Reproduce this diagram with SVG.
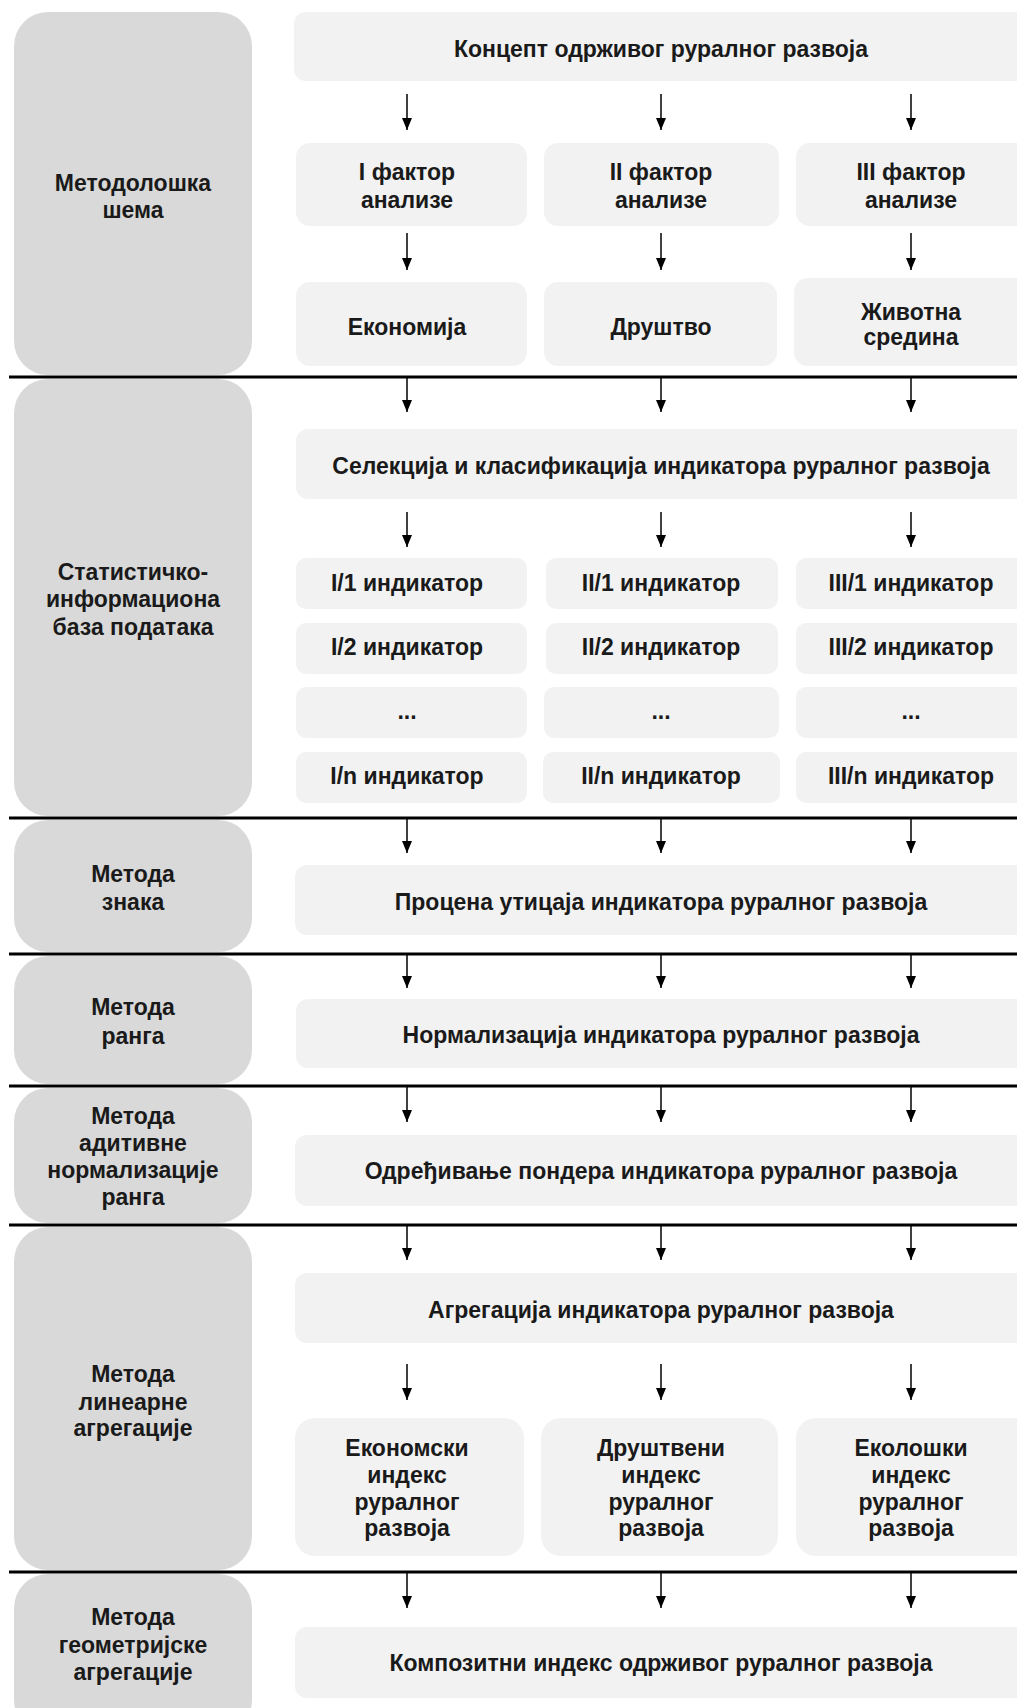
<svg xmlns="http://www.w3.org/2000/svg" width="1017" height="1708" viewBox="0 0 1017 1708">
<style>
text{font-family:"Liberation Sans",Arial,sans-serif;font-weight:bold;font-size:23px;fill:#1a1a1a;text-anchor:middle}
.side{fill:#d9d9d9}
.box{fill:#f2f2f2}
.sep{stroke:#000;stroke-width:3}
.arr{stroke:#000;stroke-width:1.5;fill:none;marker-end:url(#ah)}
</style>
<defs>
<marker id="ah" viewBox="0 0 12 10" refX="12" refY="5" markerWidth="12" markerHeight="10" markerUnits="userSpaceOnUse" orient="auto">
<path d="M0,0 L12,5 L0,10 z" fill="#000"/>
</marker>
</defs>

<g id="side-1"><rect class="side" x="14" y="12" width="238" height="363" rx="34"/><text x="133" y="191">Методолошка</text><text x="133" y="218">шема</text></g>
<g id="side-2"><rect class="side" x="14" y="379" width="238" height="437" rx="34"/><text x="133" y="580">Статистичко-</text><text x="133" y="607">информациона</text><text x="133" y="635">база података</text></g>
<g id="side-3"><rect class="side" x="14" y="820" width="238" height="132" rx="34"/><text x="133" y="882">Метода</text><text x="133" y="910">знака</text></g>
<g id="side-4"><rect class="side" x="14" y="956" width="238" height="128" rx="34"/><text x="133" y="1015">Метода</text><text x="133" y="1044">ранга</text></g>
<g id="side-5"><rect class="side" x="14" y="1088" width="238" height="135" rx="34"/><text x="133" y="1124">Метода</text><text x="133" y="1151">адитивне</text><text x="133" y="1178">нормализације</text><text x="133" y="1205">ранга</text></g>
<g id="side-6"><rect class="side" x="14" y="1227" width="238" height="343" rx="34"/><text x="133" y="1382">Метода</text><text x="133" y="1410">линеарне</text><text x="133" y="1436">агрегације</text></g>
<g id="side-7"><rect class="side" x="14" y="1574" width="238" height="160" rx="34"/><text x="133" y="1625">Метода</text><text x="133" y="1653">геометријске</text><text x="133" y="1680">агрегације</text></g>

<g id="koncept"><rect class="box" x="294" y="12" width="740" height="69" rx="12"/><text x="661" y="57">Концепт одрживог руралног развоја</text></g>
<g id="faktor-1"><rect class="box" x="296" y="143" width="231" height="83" rx="14"/><text x="407" y="180">I фактор</text><text x="407" y="208">анализе</text></g>
<g id="faktor-2"><rect class="box" x="544" y="143" width="235" height="83" rx="14"/><text x="661" y="180">II фактор</text><text x="661" y="208">анализе</text></g>
<g id="faktor-3"><rect class="box" x="796" y="143" width="240" height="83" rx="14"/><text x="911" y="180">III фактор</text><text x="911" y="208">анализе</text></g>
<g id="ekonomija"><rect class="box" x="296" y="282" width="231" height="84" rx="14"/><text x="407" y="335">Економија</text></g>
<g id="drustvo"><rect class="box" x="544" y="282" width="233" height="84" rx="14"/><text x="661" y="335">Друштво</text></g>
<g id="zivotna"><rect class="box" x="794" y="278" width="242" height="88" rx="14"/><text x="911" y="320">Животна</text><text x="911" y="345">средина</text></g>

<g id="selekcija"><rect class="box" x="296" y="429" width="740" height="70" rx="12"/><text x="661" y="474">Селекција и класификација индикатора руралног развоја</text></g>
<g id="ind-I-1"><rect class="box" x="296" y="558" width="231" height="51" rx="10"/><text x="407" y="591">I/1 индикатор</text></g>
<g id="ind-II-1"><rect class="box" x="546" y="558" width="232" height="51" rx="10"/><text x="661" y="591">II/1 индикатор</text></g>
<g id="ind-III-1"><rect class="box" x="796" y="558" width="240" height="51" rx="10"/><text x="911" y="591">III/1 индикатор</text></g>
<g id="ind-I-2"><rect class="box" x="296" y="623" width="231" height="51" rx="10"/><text x="407" y="655">I/2 индикатор</text></g>
<g id="ind-II-2"><rect class="box" x="546" y="623" width="232" height="51" rx="10"/><text x="661" y="655">II/2 индикатор</text></g>
<g id="ind-III-2"><rect class="box" x="796" y="623" width="240" height="51" rx="10"/><text x="911" y="655">III/2 индикатор</text></g>
<g id="ind-I-dots"><rect class="box" x="296" y="687" width="231" height="51" rx="10"/><text x="407" y="719">...</text></g>
<g id="ind-II-dots"><rect class="box" x="544" y="687" width="235" height="51" rx="10"/><text x="661" y="719">...</text></g>
<g id="ind-III-dots"><rect class="box" x="796" y="687" width="240" height="51" rx="10"/><text x="911" y="719">...</text></g>
<g id="ind-I-n"><rect class="box" x="296" y="752" width="231" height="51" rx="10"/><text x="407" y="784">I/n индикатор</text></g>
<g id="ind-II-n"><rect class="box" x="543" y="752" width="237" height="51" rx="10"/><text x="661" y="784">II/n индикатор</text></g>
<g id="ind-III-n"><rect class="box" x="796" y="752" width="240" height="51" rx="10"/><text x="911" y="784">III/n индикатор</text></g>

<g id="procena"><rect class="box" x="295" y="865" width="740" height="70" rx="12"/><text x="661" y="910">Процена утицаја индикатора руралног развоја</text></g>
<g id="normalizacija"><rect class="box" x="296" y="999" width="740" height="69" rx="12"/><text x="661" y="1043">Нормализација индикатора руралног развоја</text></g>
<g id="ponderi"><rect class="box" x="295" y="1135" width="740" height="71" rx="12"/><text x="661" y="1179">Одређивање пондера индикатора руралног развоја</text></g>
<g id="agregacija"><rect class="box" x="295" y="1273" width="740" height="70" rx="12"/><text x="661" y="1318">Агрегација индикатора руралног развоја</text></g>
<g id="ek-indeks"><rect class="box" x="295" y="1418" width="229" height="138" rx="20"/><text x="407" y="1456">Економски</text><text x="407" y="1483">индекс</text><text x="407" y="1510">руралног</text><text x="407" y="1536">развоја</text></g>
<g id="dr-indeks"><rect class="box" x="541" y="1418" width="237" height="138" rx="20"/><text x="661" y="1456">Друштвени</text><text x="661" y="1483">индекс</text><text x="661" y="1510">руралног</text><text x="661" y="1536">развоја</text></g>
<g id="eko-indeks"><rect class="box" x="796" y="1418" width="240" height="138" rx="20"/><text x="911" y="1456">Еколошки</text><text x="911" y="1483">индекс</text><text x="911" y="1510">руралног</text><text x="911" y="1536">развоја</text></g>
<g id="kompozitni"><rect class="box" x="295" y="1627" width="740" height="71" rx="12"/><text x="661" y="1671">Композитни индекс одрживог руралног развоја</text></g>

<g id="connectors">
<line class="sep" x1="9" y1="377" x2="1017" y2="377"/>
<line class="sep" x1="9" y1="818" x2="1017" y2="818"/>
<line class="sep" x1="9" y1="954" x2="1017" y2="954"/>
<line class="sep" x1="9" y1="1086" x2="1017" y2="1086"/>
<line class="sep" x1="9" y1="1225" x2="1017" y2="1225"/>
<line class="sep" x1="9" y1="1572" x2="1017" y2="1572"/>
<path class="arr" d="M407,94V130"/><path class="arr" d="M661,94V130"/><path class="arr" d="M911,94V130"/>
<path class="arr" d="M407,233V270"/><path class="arr" d="M661,233V270"/><path class="arr" d="M911,233V270"/>
<path class="arr" d="M407,378V412"/><path class="arr" d="M661,378V412"/><path class="arr" d="M911,378V412"/>
<path class="arr" d="M407,512V547"/><path class="arr" d="M661,512V547"/><path class="arr" d="M911,512V547"/>
<path class="arr" d="M407,819V853"/><path class="arr" d="M661,819V853"/><path class="arr" d="M911,819V853"/>
<path class="arr" d="M407,955V988"/><path class="arr" d="M661,955V988"/><path class="arr" d="M911,955V988"/>
<path class="arr" d="M407,1087V1122"/><path class="arr" d="M661,1087V1122"/><path class="arr" d="M911,1087V1122"/>
<path class="arr" d="M407,1226V1260"/><path class="arr" d="M661,1226V1260"/><path class="arr" d="M911,1226V1260"/>
<path class="arr" d="M407,1364V1400"/><path class="arr" d="M661,1364V1400"/><path class="arr" d="M911,1364V1400"/>
<path class="arr" d="M407,1573V1608"/><path class="arr" d="M661,1573V1608"/><path class="arr" d="M911,1573V1608"/>
</g>
</svg>
